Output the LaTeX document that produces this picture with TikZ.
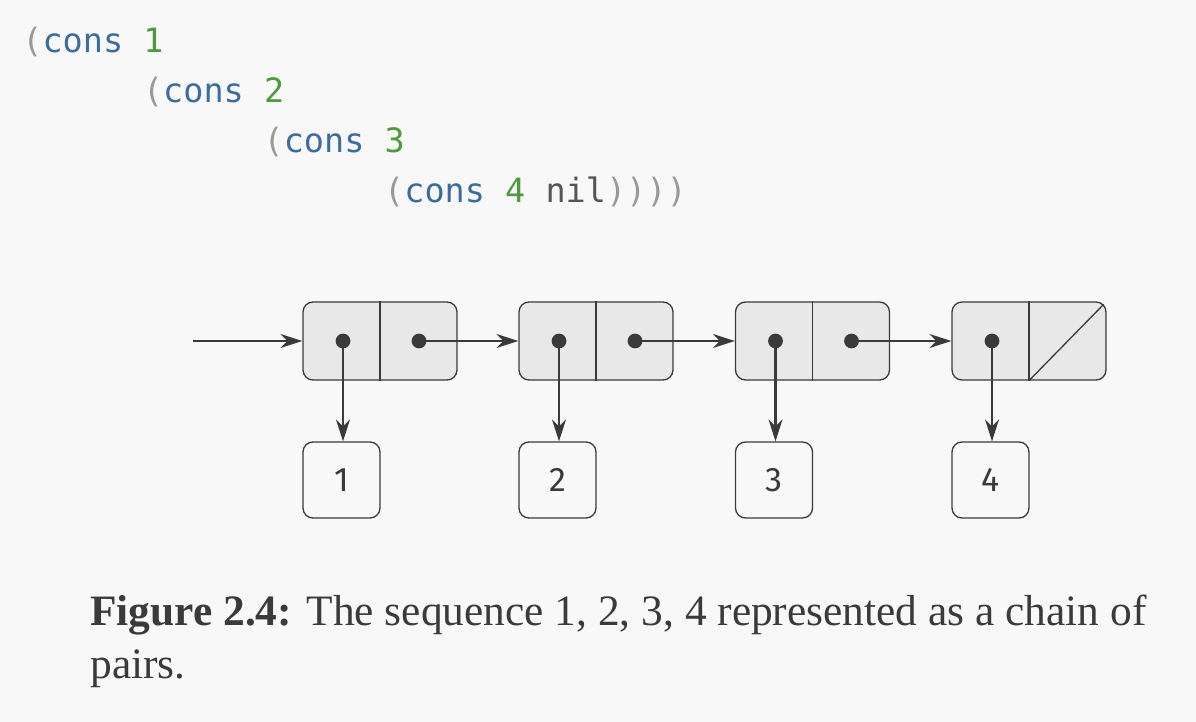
\documentclass[tikz,border=0pt]{standalone}
\usepackage{fontspec}
\setmainfont{Liberation Serif}
\setmonofont{DejaVu Sans Mono}
\newfontfamily\boxfont{Fira Sans}
\usetikzlibrary{positioning,calc,arrows.meta}
\definecolor{bggray}{HTML}{F8F8F8}
\definecolor{cellgray}{HTML}{E8E8E8}
\definecolor{inkgray}{HTML}{3A3A3A}
\definecolor{parengray}{HTML}{999999}
\definecolor{consblue}{HTML}{3D6D9E}
\definecolor{numgreen}{HTML}{4E9A3E}
\definecolor{nilgray}{HTML}{555555}
\newcommand{\pa}[1]{\textcolor{parengray}{#1}}
\newcommand{\kw}[1]{\textcolor{consblue}{#1}}
\newcommand{\num}[1]{\textcolor{numgreen}{#1}}

\begin{document}
\begin{tikzpicture}[x=0.5pt,y=-0.5pt,
    cell/.style={draw=inkgray, fill=cellgray, line width=0.65pt, rounded corners=5pt,
      minimum width=77pt, minimum height=39pt, inner sep=0pt},
    valbox/.style={draw=inkgray, line width=0.65pt, rounded corners=5pt,
      minimum width=38.5pt, minimum height=38pt, inner sep=0pt, font=\boxfont\fontsize{17}{20}\selectfont, text=inkgray},
    ptr/.style={-{Stealth[length=11pt,width=7pt,inset=3.5pt]}, line width=1.1pt, draw=inkgray},
    code/.style={anchor=base west, inner sep=0pt, font=\ttfamily\fontsize{16.75}{20}\selectfont},
    capt/.style={anchor=base west, inner sep=0pt, font=\fontsize{21.7}{26}\selectfont, text=inkgray}]
				% sfondo
				\fill[bggray] (0,0) rectangle (1196,722);
				\useasboundingbox (0,0) rectangle (1196,722);
				
				% Codice
				\node[code] (l1) at (22,53) {\pa{(}\kw{cons} \num{1}};
				\node[code] (l2) at (142.6,103) {\pa{(}\kw{cons} \num{2}};
				\node[code] (l3) at (263.2,153) {\pa{(}\kw{cons} \num{3}};
				\node[code] (l4) at (383.8,203) {\pa{(}\kw{cons} \num{4} \textcolor{nilgray}{nil}\pa{))))}};
				
				% Coppie
				\node[cell] (c1) at (380,341) {};
				\node[cell] (c2) at (596,341) {};
				\node[cell] (c3) at (812.5,341) {};
				\node[cell] (c4) at (1029,341) {};
				\draw[inkgray, line width=0.65pt] (c1.north) -- (c1.south);
				\draw[inkgray, line width=0.65pt] (c2.north) -- (c2.south);
				\draw[inkgray, line width=0.65pt] (c3.north) -- (c3.south);
				\draw[inkgray, line width=0.65pt] (c4.north) -- (c4.south);
				\draw[inkgray, line width=0.65pt] (c4.south) -- ($(c4.north east)+(-3,3)$);
				
				% Valori
				\node[valbox] (v1) at (341.5,480) {1};
				\node[valbox] (v2) at (557.5,480) {2};
				\node[valbox] (v3) at (774,480) {3};
				\node[valbox] (v4) at (990.5,480) {4};
				
				% Puntatori
				\coordinate (c1a) at ($(c1.center)+(-37,0)$);
				\coordinate (c2a) at ($(c2.center)+(-37,0)$);
				\coordinate (c3a) at ($(c3.center)+(-37,0)$);
				\coordinate (c4a) at ($(c4.center)+(-37,0)$);
				\coordinate (c1d) at ($(c1.center)+(39,0)$);
				\coordinate (c2d) at ($(c2.center)+(39,0)$);
				\coordinate (c3d) at ($(c3.center)+(39,0)$);
				\coordinate (start) at (193,341);
				\draw[ptr] (start) -- (c1.west);
				\draw[ptr] (c1a) -- (c1a |- v1.north);
				\draw[ptr] (c2a) -- (c2a |- v2.north);
				\draw[ptr] (c3a) -- (c3a |- v3.north);
				\draw[ptr] (c4a) -- (c4a |- v4.north);
				\draw[ptr] (c1d) -- (c2.west);
				\draw[ptr] (c2d) -- (c3.west);
				\draw[ptr] (c3d) -- (c4.west);
				\foreach \p in {c1a,c1d,c2a,c2d,c3a,c3d,c4a}
				  \fill[inkgray] (\p) circle (3.7pt);
				
				% Didascalia
				\node[capt] (cap1) at (90,625) {\textbf{Figure 2.4:} The sequence 1, 2, 3, 4 represented as a chain of};
				\node[capt] (cap2) at (90,678) {pairs.};
			\end{tikzpicture}
\end{document}
